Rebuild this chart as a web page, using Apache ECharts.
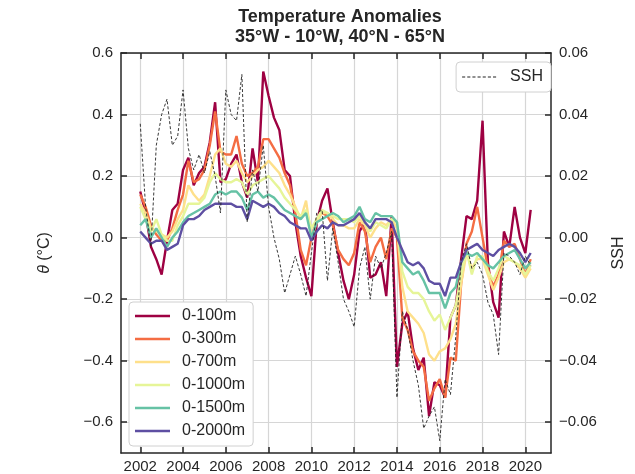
<!DOCTYPE html>
<html><head><meta charset="utf-8">
<script src="https://cdn.jsdelivr.net/npm/echarts@6/dist/echarts.min.js"></script>
<style>html,body{margin:0;padding:0;background:#fff}#c{width:635px;height:474px}</style>
</head><body><div id="c"></div>
<script>
// decimal years (quarterly samples)
const years = [
2002.0,2002.25,2002.5,2002.75, 2003.0,2003.25,2003.5,2003.75, 2004.0,2004.25,2004.5,2004.75,
2005.0,2005.25,2005.5,2005.75, 2006.0,2006.25,2006.5,2006.75, 2007.0,2007.25,2007.5,2007.75,
2008.0,2008.25,2008.5,2008.75, 2009.0,2009.25,2009.5,2009.75, 2010.0,2010.25,2010.5,2010.75,
2011.0,2011.25,2011.5,2011.75, 2012.0,2012.25,2012.5,2012.75, 2013.0,2013.25,2013.5,2013.75,
2014.0,2014.25,2014.5,2014.75, 2015.0,2015.25,2015.5,2015.75, 2016.0,2016.25,2016.5,2016.75,
2017.0,2017.25,2017.5,2017.75, 2018.0,2018.25,2018.5,2018.75, 2019.0,2019.25,2019.5,2019.75,
2020.0,2020.25];

const t0_100m = [
0.15,0.08,-0.03,-0.07, -0.12,-0.01,0.09,0.11, 0.22,0.26,0.17,0.21,
0.23,0.31,0.44,0.18, 0.19,0.24,0.27,0.18, 0.13,0.29,0.18,0.54,
0.46,0.39,0.35,0.22, 0.20,0.05,-0.06,-0.13, -0.19,0.05,0.12,0.16,
0.05,-0.05,-0.14,-0.20, -0.12,0.02,0.05,-0.13, -0.12,-0.08,-0.19,0.07,
-0.42,-0.28,-0.24,-0.36, -0.43,-0.39,-0.58,-0.47, -0.48,-0.52,-0.26,-0.22,
-0.07,0.07,0.06,0.12, 0.38,-0.08,-0.21,-0.26, 0.02,-0.03,0.10,0.00,
-0.05,0.09];

const t0_300m = [
0.14,0.10,0.04,0.01, -0.01,-0.01,0.03,0.09, 0.14,0.25,0.18,0.19,
0.22,0.30,0.41,0.28, 0.27,0.27,0.33,0.24, 0.20,0.21,0.23,0.32,
0.32,0.29,0.26,0.21, 0.17,0.08,-0.04,-0.09, 0.00,0.06,0.08,0.07,
0.04,-0.04,-0.07,-0.09, -0.05,0.05,0.02,-0.08, -0.03,0.00,-0.07,0.03,
0.00,-0.26,-0.30,-0.37, -0.40,-0.42,-0.53,-0.49, -0.46,-0.52,-0.39,-0.40,
-0.15,-0.02,0.02,0.10, 0.00,-0.10,-0.16,-0.12, -0.01,-0.03,-0.02,-0.07,
-0.12,-0.07];

const t0_700m = [
0.11,0.08,0.03,0.02, 0.01,0.00,0.02,0.06, 0.09,0.17,0.14,0.12,
0.14,0.20,0.27,0.29, 0.24,0.23,0.25,0.21, 0.18,0.20,0.22,0.23,
0.25,0.23,0.21,0.17, 0.14,0.10,0.06,0.12, 0.00,0.05,0.08,0.08,
0.06,0.04,0.04,0.03, 0.03,0.06,0.04,0.00, 0.03,0.05,0.04,0.06,
0.03,-0.16,-0.24,-0.26, -0.28,-0.31,-0.38,-0.40, -0.37,-0.36,-0.33,-0.28,
-0.15,-0.05,-0.10,-0.07, -0.07,-0.12,-0.17,-0.13, -0.08,-0.07,-0.08,-0.10,
-0.13,-0.10];

const t0_1000m = [
0.10,0.06,0.02,0.06, 0.01,-0.01,-0.01,0.04, 0.07,0.11,0.11,0.11,
0.13,0.18,0.21,0.19, 0.18,0.18,0.19,0.18, 0.14,0.17,0.18,0.19,
0.20,0.18,0.16,0.13, 0.11,0.09,0.07,0.09, 0.03,0.06,0.09,0.08,
0.07,0.06,0.06,0.06, 0.05,0.07,0.05,0.02, 0.05,0.04,0.03,0.06,
0.05,-0.11,-0.16,-0.18, -0.18,-0.20,-0.24,-0.27, -0.25,-0.30,-0.26,-0.22,
-0.12,-0.04,-0.12,-0.06, -0.06,-0.11,-0.14,-0.10, -0.06,-0.07,-0.08,-0.09,
-0.12,-0.09];

const t0_1500m = [
0.04,0.06,0.00,0.03, 0.00,-0.03,0.00,0.02, 0.05,0.07,0.08,0.09,
0.10,0.11,0.14,0.15, 0.14,0.15,0.15,0.13, 0.09,0.14,0.15,0.13,
0.14,0.13,0.11,0.09, 0.08,0.07,0.06,0.08, 0.00,0.05,0.06,0.07,
0.08,0.07,0.05,0.06, 0.07,0.10,0.06,0.05, 0.08,0.07,0.07,0.07,
0.05,-0.08,-0.10,-0.12, -0.11,-0.14,-0.18,-0.18, -0.18,-0.23,-0.18,-0.16,
-0.08,-0.05,-0.06,-0.05, -0.07,-0.09,-0.10,-0.08, -0.06,-0.05,-0.04,-0.07,
-0.10,-0.08];

const t0_2000m = [
0.02,0.00,-0.02,-0.01, -0.01,-0.04,-0.03,-0.02, 0.04,0.06,0.06,0.07,
0.09,0.10,0.11,0.11, 0.11,0.11,0.10,0.10, 0.06,0.12,0.11,0.10,
0.11,0.10,0.08,0.07, 0.05,0.04,0.03,0.03, -0.01,0.02,0.04,0.03,
0.05,0.04,0.04,0.05, 0.06,0.08,0.05,0.03, 0.06,0.06,0.06,0.05,
0.00,-0.04,-0.08,-0.09, -0.08,-0.10,-0.14,-0.15, -0.15,-0.19,-0.13,-0.13,
-0.08,-0.04,-0.03,-0.02, -0.04,-0.05,-0.06,-0.04, -0.03,-0.02,-0.03,-0.05,
-0.08,-0.05];

const ssh = [
0.037,0.010,-0.003,0.030, 0.040,0.045,0.030,0.033, 0.048,0.029,0.022,0.027,
0.021,0.028,0.020,0.008, 0.048,0.040,0.038,0.053, 0.005,0.022,0.015,0.030,
0.010,0.000,-0.007,-0.018, -0.012,-0.006,-0.012,-0.019, -0.005,0.008,0.009,-0.014,
0.003,-0.008,-0.020,-0.024, -0.029,-0.010,-0.003,-0.020, -0.006,-0.010,-0.005,0.002,
-0.052,-0.024,-0.030,-0.040, -0.048,-0.062,-0.058,-0.055, -0.066,-0.046,-0.051,-0.032,
-0.008,-0.002,-0.010,-0.008, -0.012,-0.021,-0.025,-0.038, -0.005,-0.006,-0.008,-0.012,
-0.006,-0.009];

const depthNames = ['0-100m','0-300m','0-700m','0-1000m','0-1500m','0-2000m'];
const depthData = [t0_100m,t0_300m,t0_700m,t0_1000m,t0_1500m,t0_2000m];
const depthColors = ['#9e0142','#f46d43','#fee08b','#e6f598','#66c2a5','#5e4fa2'];
const xTicks = [2002,2004,2006,2008,2010,2012,2014,2016,2018,2020];
const yTicksLeft = [-0.6,-0.4,-0.2,0,0.2,0.4,0.6];
const yTicksRight = [-0.06,-0.04,-0.02,0,0.02,0.04,0.06];

const FONT = '"Liberation Sans", Arial, sans-serif';
const TXT = '#262626';
const minus = s => s.replace('-', '\u2212');
const spine = {show:true, onZero:false, lineStyle:{color:TXT, width:1.5}};
const tick = vals => ({show:true, inside:true, length:6, customValues:vals, lineStyle:{color:TXT, width:1.5}});
const grid = {show:true, lineStyle:{color:'#d6d6d6', width:1.2}};
const solidIcon = 'path://M0,0H35V2.4H0Z';
const dashIcon = 'path://M0,0H3V1H0Z M5,0H8V1H5Z M10,0H13V1H10Z M15,0H18V1H15Z M20,0H23V1H20Z M25,0H28V1H25Z M30,0H33V1H30Z';

const pairs = arr => years.map((y,i)=>[y, arr[i]]);

const series = depthNames.map((n,i)=>({
  name:n, type:'line', xAxisIndex:0, yAxisIndex:0, data:pairs(depthData[i]),
  symbol:'none', lineStyle:{color:depthColors[i], width:2.4}, itemStyle:{color:depthColors[i]}, z:2+i
}));
series.push({
  name:'SSH', type:'line', xAxisIndex:0, yAxisIndex:1, data:pairs(ssh),
  symbol:'none', lineStyle:{color:'#222', width:0.9, type:[3,2]}, itemStyle:{color:'#222'}, z:10
});

const chart = echarts.init(document.getElementById('c'), null, {renderer:'canvas'});
chart.setOption({
  animation:false,
  backgroundColor:'#ffffff',
  title:{
    text:'Temperature Anomalies\n35°W - 10°W, 40°N - 65°N',
    left:335, top:2, textAlign:'center',
    textStyle:{fontFamily:FONT, fontSize:18, fontWeight:'bold', color:TXT, lineHeight:20}
  },
  grid:{left:121, right:76, top:53, bottom:21, containLabel:false},
  legend:[
    {data:depthNames.map(n=>({name:n, icon:solidIcon})), orient:'vertical', left:129, top:302,
     itemWidth:35, itemHeight:14, itemGap:7,
     padding:[6,8,7,6], backgroundColor:'#ffffff', borderColor:'#d0d0d0', borderWidth:1, borderRadius:4,
     textStyle:{fontFamily:FONT, fontSize:16, color:TXT, lineHeight:14, padding:[0,0,0,7]}},
    {data:[{name:'SSH', icon:dashIcon}], orient:'vertical', right:84, top:62, itemWidth:34, itemHeight:14,
     padding:[7,8,7,6], backgroundColor:'#ffffff', borderColor:'#d0d0d0', borderWidth:1, borderRadius:4,
     textStyle:{fontFamily:FONT, fontSize:16, color:TXT, lineHeight:14, padding:[0,0,0,9]}}
  ],
  xAxis:[
    {type:'value', min:2001.1, max:2021.2, position:'bottom',
     axisLine:spine, axisTick:tick(xTicks),
     axisLabel:{customValues:xTicks, formatter:v=>String(Math.round(v)), color:TXT, fontSize:15, fontFamily:FONT, margin:6},
     splitLine:grid},
    {type:'value', min:2001.1, max:2021.2, position:'top',
     axisLine:spine, axisTick:tick(xTicks), axisLabel:{show:false}, splitLine:{show:false}}
  ],
  yAxis:[
    {type:'value', min:-0.7, max:0.6, position:'left',
     axisLine:spine, axisTick:tick(yTicksLeft),
     axisLabel:{customValues:yTicksLeft, formatter:v=>minus(v.toFixed(1)), color:TXT, fontSize:15, fontFamily:FONT, margin:8},
     splitLine:grid,
     name:'{i|θ} (°C)', nameLocation:'middle', nameGap:68, nameRotate:90,
     nameTextStyle:{fontFamily:FONT, fontSize:16, color:TXT, rich:{i:{fontStyle:'italic', fontFamily:FONT, fontSize:16, color:TXT}}}},
    {type:'value', min:-0.07, max:0.06, position:'right',
     axisLine:spine, axisTick:tick(yTicksRight),
     axisLabel:{customValues:yTicksRight, formatter:v=>minus(v.toFixed(2)), color:TXT, fontSize:15, fontFamily:FONT, margin:8},
     splitLine:{show:false},
     name:'SSH', nameLocation:'middle', nameGap:60, nameRotate:90,
     nameTextStyle:{fontFamily:FONT, fontSize:16, color:TXT}}
  ],
  series:series
});
</script>
</body></html>
